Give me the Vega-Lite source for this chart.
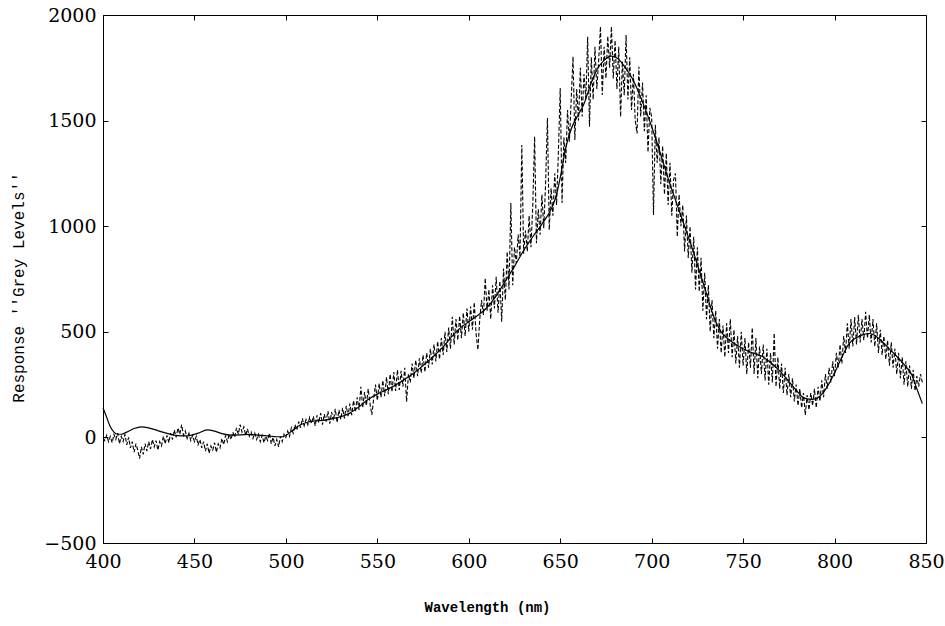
{
"$schema":"https://vega.github.io/schema/vega-lite/v6.json",
"width":823,"height":528,
"autosize":{"type":"none"},
"padding":{"left":103,"top":15,"right":19,"bottom":83},
"background":"white",
"config":{"view":{"stroke":"black","strokeWidth":1},
"axis":{"grid":false,"domain":false,"tickColor":"black","labelColor":"black","titleColor":"black","labelFont":"DejaVu Serif","labelFontSize":19,"labelFontWeight":"normal","labelFlush":false,"labelOverlap":false}},
"datasets":{
"noisy":[
{"x":400,"y":0},{"x":401,"y":-15},{"x":402,"y":10},{"x":403,"y":-20},{"x":404,"y":5},{"x":405,"y":-25},{"x":406,"y":15},{"x":407,"y":-10},{"x":408,"y":20},{"x":409,"y":-30},
{"x":410,"y":5},{"x":411,"y":-20},{"x":412,"y":15},{"x":413,"y":-35},{"x":414,"y":0},{"x":415,"y":-50},{"x":416,"y":-20},{"x":417,"y":-70},{"x":418,"y":-30},{"x":419,"y":-60},
{"x":420,"y":-100},{"x":421,"y":-45},{"x":422,"y":-80},{"x":423,"y":-30},{"x":424,"y":-65},{"x":425,"y":-20},{"x":426,"y":-55},{"x":427,"y":-10},{"x":428,"y":-45},{"x":429,"y":-15},
{"x":430,"y":-60},{"x":431,"y":-20},{"x":432,"y":-40},{"x":433,"y":5},{"x":434,"y":-30},{"x":435,"y":10},{"x":436,"y":-25},{"x":437,"y":20},{"x":438,"y":-10},{"x":439,"y":35},
{"x":440,"y":0},{"x":441,"y":45},{"x":442,"y":15},{"x":443,"y":60},{"x":444,"y":10},{"x":445,"y":30},{"x":446,"y":-5},{"x":447,"y":20},{"x":448,"y":-15},{"x":449,"y":10},
{"x":450,"y":-20},{"x":451,"y":5},{"x":452,"y":-35},{"x":453,"y":-10},{"x":454,"y":-50},{"x":455,"y":-20},{"x":456,"y":-65},{"x":457,"y":-30},{"x":458,"y":-75},{"x":459,"y":-40},
{"x":460,"y":-60},{"x":461,"y":-25},{"x":462,"y":-70},{"x":463,"y":-30},{"x":464,"y":-50},{"x":465,"y":-5},{"x":466,"y":-35},{"x":467,"y":10},{"x":468,"y":-20},{"x":469,"y":15},
{"x":470,"y":-10},{"x":471,"y":25},{"x":472,"y":0},{"x":473,"y":45},{"x":474,"y":15},{"x":475,"y":60},{"x":476,"y":25},{"x":477,"y":50},{"x":478,"y":10},{"x":479,"y":40},
{"x":480,"y":5},{"x":481,"y":25},{"x":482,"y":-5},{"x":483,"y":20},{"x":484,"y":-10},{"x":485,"y":15},{"x":486,"y":-20},{"x":487,"y":10},{"x":488,"y":-25},{"x":489,"y":5},
{"x":490,"y":-15},{"x":491,"y":20},{"x":492,"y":-30},{"x":493,"y":0},{"x":494,"y":-40},{"x":495,"y":-10},{"x":496,"y":-45},{"x":497,"y":5},{"x":498,"y":-20},{"x":499,"y":15},
{"x":500,"y":0},{"x":501,"y":30},{"x":502,"y":5},{"x":503,"y":45},{"x":504,"y":20},{"x":505,"y":60},{"x":506,"y":35},{"x":507,"y":75},{"x":508,"y":45},{"x":509,"y":90},
{"x":510,"y":55},{"x":511,"y":85},{"x":512,"y":60},{"x":513,"y":95},{"x":514,"y":65},{"x":515,"y":100},{"x":516,"y":55},{"x":517,"y":105},{"x":518,"y":70},{"x":519,"y":115},
{"x":520,"y":60},{"x":521,"y":110},{"x":522,"y":75},{"x":523,"y":125},{"x":524,"y":65},{"x":525,"y":120},{"x":526,"y":80},{"x":527,"y":135},{"x":528,"y":70},{"x":529,"y":130},
{"x":530,"y":85},{"x":531,"y":140},{"x":532,"y":90},{"x":533,"y":150},{"x":534,"y":100},{"x":535,"y":160},{"x":536,"y":105},{"x":537,"y":175},{"x":538,"y":120},{"x":539,"y":190},
{"x":540,"y":130},{"x":541,"y":240},{"x":542,"y":140},{"x":543,"y":215},{"x":544,"y":150},{"x":545,"y":230},{"x":546,"y":160},{"x":547,"y":106},{"x":548,"y":185},{"x":549,"y":250},
{"x":550,"y":175},{"x":551,"y":255},{"x":552,"y":190},{"x":553,"y":270},{"x":554,"y":195},{"x":555,"y":285},{"x":556,"y":205},{"x":557,"y":300},{"x":558,"y":215},{"x":559,"y":310},
{"x":560,"y":220},{"x":561,"y":320},{"x":562,"y":225},{"x":563,"y":315},{"x":564,"y":240},{"x":565,"y":330},{"x":566,"y":169},{"x":567,"y":300},{"x":568,"y":260},{"x":569,"y":350},
{"x":570,"y":280},{"x":571,"y":366},{"x":572,"y":290},{"x":573,"y":375},{"x":574,"y":305},{"x":575,"y":390},{"x":576,"y":310},{"x":577,"y":400},{"x":578,"y":330},{"x":579,"y":420},
{"x":580,"y":345},{"x":581,"y":440},{"x":582,"y":360},{"x":583,"y":455},{"x":584,"y":370},{"x":585,"y":470},{"x":586,"y":390},{"x":587,"y":500},{"x":588,"y":405},{"x":589,"y":520},
{"x":590,"y":420},{"x":591,"y":571},{"x":592,"y":440},{"x":593,"y":560},{"x":594,"y":460},{"x":595,"y":575},{"x":596,"y":470},{"x":597,"y":590},{"x":598,"y":480},{"x":599,"y":610},
{"x":600,"y":500},{"x":601,"y":620},{"x":602,"y":510},{"x":603,"y":640},{"x":604,"y":490},{"x":605,"y":414},{"x":606,"y":560},{"x":607,"y":650},{"x":608,"y":580},{"x":609,"y":755},
{"x":610,"y":600},{"x":611,"y":700},{"x":612,"y":560},{"x":613,"y":720},{"x":614,"y":610},{"x":615,"y":760},{"x":616,"y":590},{"x":617,"y":740},{"x":618,"y":548},{"x":619,"y":800},
{"x":620,"y":650},{"x":621,"y":880},{"x":622,"y":700},{"x":623,"y":1110},{"x":624,"y":720},{"x":625,"y":900},{"x":626,"y":825},{"x":627,"y":960},{"x":628,"y":856},{"x":629,"y":1385},
{"x":630,"y":870},{"x":631,"y":980},{"x":632,"y":880},{"x":633,"y":1050},{"x":634,"y":900},{"x":635,"y":1100},{"x":636,"y":1424},{"x":637,"y":920},{"x":638,"y":1080},{"x":639,"y":960},
{"x":640,"y":1150},{"x":641,"y":990},{"x":642,"y":1200},{"x":643,"y":1512},{"x":644,"y":982},{"x":645,"y":1180},{"x":646,"y":1050},{"x":647,"y":1250},{"x":648,"y":1100},{"x":649,"y":1350},
{"x":650,"y":1654},{"x":651,"y":1110},{"x":652,"y":1420},{"x":653,"y":1300},{"x":654,"y":1550},{"x":655,"y":1400},{"x":656,"y":1600},{"x":657,"y":1803},{"x":658,"y":1408},{"x":659,"y":1650},
{"x":660,"y":1500},{"x":661,"y":1750},{"x":662,"y":1520},{"x":663,"y":1720},{"x":664,"y":1600},{"x":665,"y":1897},{"x":666,"y":1471},{"x":667,"y":1800},{"x":668,"y":1600},{"x":669,"y":1850},
{"x":670,"y":1650},{"x":671,"y":1780},{"x":672,"y":1945},{"x":673,"y":1621},{"x":674,"y":1850},{"x":675,"y":1700},{"x":676,"y":1900},{"x":677,"y":1750},{"x":678,"y":1945},{"x":679,"y":1700},
{"x":680,"y":1880},{"x":681,"y":1650},{"x":682,"y":1850},{"x":683,"y":1518},{"x":684,"y":1780},{"x":685,"y":1620},{"x":686,"y":1905},{"x":687,"y":1600},{"x":688,"y":1800},{"x":689,"y":1550},
{"x":690,"y":1720},{"x":691,"y":1500},{"x":692,"y":1439},{"x":693,"y":1755},{"x":694,"y":1520},{"x":695,"y":1680},{"x":696,"y":1450},{"x":697,"y":1620},{"x":698,"y":1350},{"x":699,"y":1560},
{"x":700,"y":1518},{"x":701,"y":1053},{"x":702,"y":1480},{"x":703,"y":1300},{"x":704,"y":1420},{"x":705,"y":1200},{"x":706,"y":1380},{"x":707,"y":1150},{"x":708,"y":1345},{"x":709,"y":1100},
{"x":710,"y":1300},{"x":711,"y":1050},{"x":712,"y":1220},{"x":713,"y":1250},{"x":714,"y":950},{"x":715,"y":1150},{"x":716,"y":1000},{"x":717,"y":1100},{"x":718,"y":880},{"x":719,"y":1050},
{"x":720,"y":850},{"x":721,"y":1000},{"x":722,"y":780},{"x":723,"y":950},{"x":724,"y":700},{"x":725,"y":900},{"x":726,"y":690},{"x":727,"y":850},{"x":728,"y":600},{"x":729,"y":780},
{"x":730,"y":560},{"x":731,"y":720},{"x":732,"y":500},{"x":733,"y":650},{"x":734,"y":470},{"x":735,"y":600},{"x":736,"y":420},{"x":737,"y":560},{"x":738,"y":400},{"x":739,"y":530},
{"x":740,"y":380},{"x":741,"y":540},{"x":742,"y":400},{"x":743,"y":560},{"x":744,"y":380},{"x":745,"y":510},{"x":746,"y":350},{"x":747,"y":480},{"x":748,"y":330},{"x":749,"y":500},
{"x":750,"y":340},{"x":751,"y":470},{"x":752,"y":300},{"x":753,"y":450},{"x":754,"y":330},{"x":755,"y":520},{"x":756,"y":300},{"x":757,"y":470},{"x":758,"y":280},{"x":759,"y":430},
{"x":760,"y":300},{"x":761,"y":440},{"x":762,"y":270},{"x":763,"y":420},{"x":764,"y":250},{"x":765,"y":400},{"x":766,"y":260},{"x":767,"y":494},{"x":768,"y":240},{"x":769,"y":380},
{"x":770,"y":230},{"x":771,"y":350},{"x":772,"y":210},{"x":773,"y":330},{"x":774,"y":200},{"x":775,"y":300},{"x":776,"y":190},{"x":777,"y":280},{"x":778,"y":170},{"x":779,"y":250},
{"x":780,"y":150},{"x":781,"y":230},{"x":782,"y":140},{"x":783,"y":210},{"x":784,"y":106},{"x":785,"y":200},{"x":786,"y":130},{"x":787,"y":210},{"x":788,"y":150},{"x":789,"y":230},
{"x":790,"y":140},{"x":791,"y":240},{"x":792,"y":170},{"x":793,"y":270},{"x":794,"y":190},{"x":795,"y":300},{"x":796,"y":230},{"x":797,"y":330},{"x":798,"y":260},{"x":799,"y":360},
{"x":800,"y":290},{"x":801,"y":400},{"x":802,"y":330},{"x":803,"y":440},{"x":804,"y":350},{"x":805,"y":480},{"x":806,"y":400},{"x":807,"y":540},{"x":808,"y":420},{"x":809,"y":560},
{"x":810,"y":430},{"x":811,"y":570},{"x":812,"y":440},{"x":813,"y":580},{"x":814,"y":450},{"x":815,"y":560},{"x":816,"y":460},{"x":817,"y":595},{"x":818,"y":470},{"x":819,"y":580},
{"x":820,"y":450},{"x":821,"y":560},{"x":822,"y":430},{"x":823,"y":540},{"x":824,"y":400},{"x":825,"y":510},{"x":826,"y":390},{"x":827,"y":480},{"x":828,"y":370},{"x":829,"y":460},
{"x":830,"y":340},{"x":831,"y":450},{"x":832,"y":330},{"x":833,"y":420},{"x":834,"y":300},{"x":835,"y":400},{"x":836,"y":280},{"x":837,"y":380},{"x":838,"y":250},{"x":839,"y":360},
{"x":840,"y":240},{"x":841,"y":340},{"x":842,"y":230},{"x":843,"y":320},{"x":844,"y":220},{"x":845,"y":290},{"x":846,"y":240},{"x":847,"y":300},{"x":848,"y":260}
],
"smooth":[
{"x":400,"y":140},{"x":402,"y":95},{"x":404,"y":50},{"x":406,"y":25},{"x":408,"y":15},{"x":410,"y":15},{"x":413,"y":25},{"x":417,"y":42},{"x":421,"y":50},{"x":425,"y":45},
{"x":430,"y":32},{"x":435,"y":19},{"x":440,"y":10},{"x":444,"y":7},{"x":448,"y":10},{"x":452,"y":20},{"x":457,"y":36},{"x":461,"y":30},{"x":465,"y":18},{"x":470,"y":11},
{"x":475,"y":12},{"x":480,"y":14},{"x":485,"y":11},{"x":490,"y":7},{"x":495,"y":3},{"x":498,"y":3},{"x":501,"y":15},{"x":504,"y":35},{"x":508,"y":60},{"x":512,"y":72},
{"x":516,"y":78},{"x":520,"y":80},{"x":525,"y":88},{"x":530,"y":98},{"x":535,"y":115},{"x":540,"y":145},{"x":545,"y":180},{"x":550,"y":205},{"x":555,"y":225},{"x":560,"y":248},
{"x":565,"y":275},{"x":570,"y":305},{"x":575,"y":340},{"x":580,"y":378},{"x":585,"y":420},{"x":590,"y":470},{"x":595,"y":515},{"x":600,"y":548},{"x":605,"y":578},{"x":610,"y":615},
{"x":615,"y":670},{"x":620,"y":740},{"x":625,"y":810},{"x":630,"y":885},{"x":635,"y":950},{"x":640,"y":1010},{"x":645,"y":1080},{"x":648,"y":1150},{"x":650,"y":1230},{"x":653,"y":1370},
{"x":656,"y":1460},{"x":660,"y":1530},{"x":663,"y":1580},{"x":667,"y":1680},{"x":670,"y":1740},{"x":674,"y":1785},{"x":678,"y":1805},{"x":682,"y":1790},{"x":686,"y":1745},{"x":690,"y":1690},
{"x":694,"y":1610},{"x":698,"y":1520},{"x":702,"y":1420},{"x":706,"y":1310},{"x":710,"y":1200},{"x":714,"y":1100},{"x":718,"y":1000},{"x":722,"y":900},{"x":726,"y":790},{"x":730,"y":680},
{"x":734,"y":570},{"x":738,"y":500},{"x":742,"y":465},{"x":746,"y":440},{"x":750,"y":420},{"x":755,"y":400},{"x":760,"y":385},{"x":765,"y":355},{"x":770,"y":315},{"x":775,"y":265},
{"x":779,"y":224},{"x":782,"y":195},{"x":785,"y":182},{"x":788,"y":180},{"x":792,"y":195},{"x":796,"y":240},{"x":800,"y":305},{"x":804,"y":380},{"x":808,"y":445},{"x":812,"y":472},
{"x":816,"y":488},{"x":819,"y":492},{"x":823,"y":477},{"x":827,"y":445},{"x":831,"y":410},{"x":835,"y":375},{"x":839,"y":335},{"x":842,"y":300},{"x":845,"y":230},{"x":848,"y":160}
]},
"layer":[
{"data":{"name":"noisy"},
"mark":{"type":"line","color":"black","strokeWidth":1.1,"strokeDash":[4,2]},
"encoding":{
"x":{"field":"x","type":"quantitative","scale":{"domain":[400,850],"nice":false,"zero":false},
"axis":{"orient":"bottom","values":[400,450,500,550,600,650,700,750,800,850],"format":"d","tickSize":-5,"labelPadding":14,"title":"Wavelength (nm)","titleFont":"Liberation Mono","titleFontSize":14,"titleFontWeight":"bold","titleX":384,"titleY":64,"titleBaseline":"middle"}},
"y":{"field":"y","type":"quantitative","scale":{"domain":[-500,2000],"nice":false,"zero":false},
"axis":{"orient":"left","values":[-500,0,500,1000,1500,2000],"format":"d","tickSize":-5,"labelPadding":12,"title":"Response ''Grey Levels''","titleFont":"Liberation Mono","titleFontSize":16,"titleFontWeight":"normal","titleX":-85,"titleY":272,"titleAngle":-90,"titleAlign":"center","titleBaseline":"middle"}}}},
{"data":{"name":"smooth"},
"mark":{"type":"line","color":"black","strokeWidth":1.2,"interpolate":"monotone"},
"encoding":{
"x":{"field":"x","type":"quantitative","axis":{"orient":"top","values":[400,450,500,550,600,650,700,750,800,850],"tickSize":-5,"labels":false,"title":null}},
"y":{"field":"y","type":"quantitative","axis":{"orient":"right","values":[-500,0,500,1000,1500,2000],"tickSize":-5,"labels":false,"title":null}}}}
],
"resolve":{"axis":{"x":"independent","y":"independent"}}
}
